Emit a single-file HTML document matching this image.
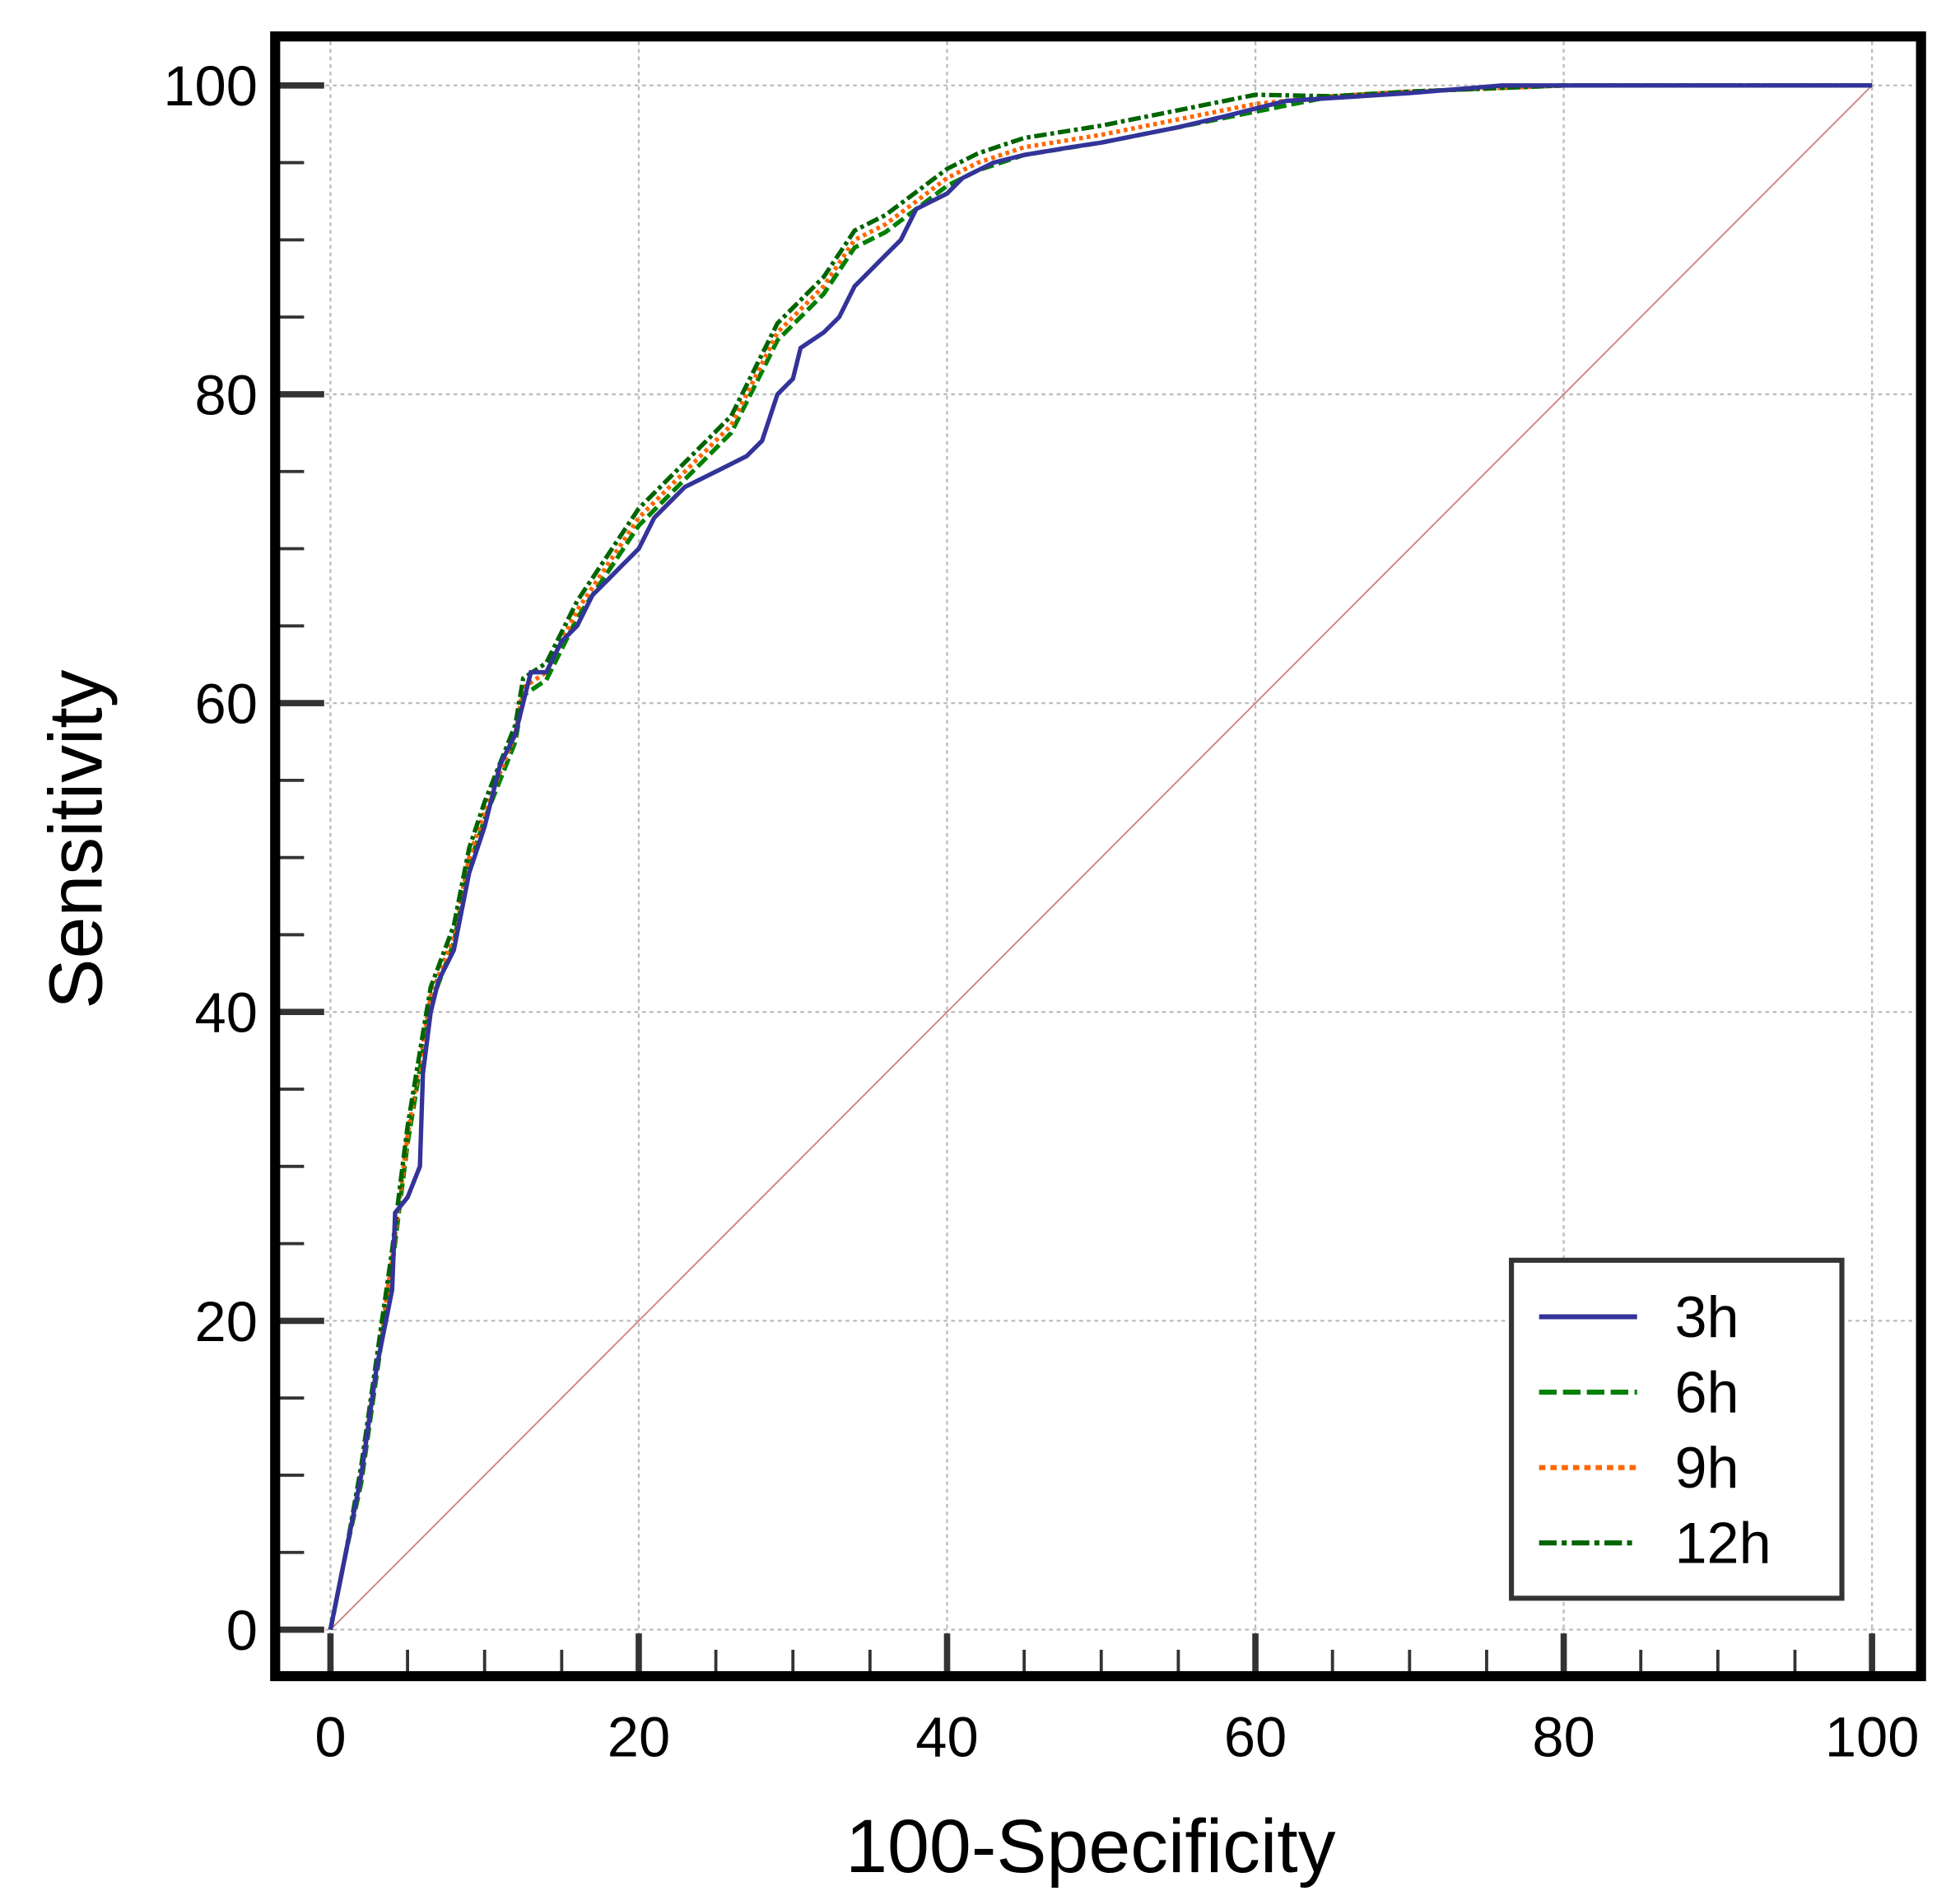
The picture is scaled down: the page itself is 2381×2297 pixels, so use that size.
<!DOCTYPE html>
<html><head><meta charset="utf-8"><style>
html,body{margin:0;padding:0;background:#fff;}
svg{display:block;}
text{font-family:"Liberation Sans",Arial,sans-serif;fill:#000;}
</style></head><body>
<svg id="s" width="2381" height="2297" viewBox="0 0 1560 1505" xmlns="http://www.w3.org/2000/svg">
<rect x="0" y="0" width="1560" height="1505" fill="#fff"/>
<g id="grid" stroke="#bbb" stroke-width="1.5" stroke-dasharray="3,3"></g>
<line x1="263" y1="1297" x2="1490" y2="68" stroke="#d08080" stroke-width="1.2"/>
<g id="curves" fill="none"></g>
<g id="ticks" stroke="#333"></g>
<rect x="219" y="29" width="1310" height="1305" fill="none" stroke="#000" stroke-width="8"/>
<g id="labels" font-size="45"></g>
<text x="65" y="668" font-size="60" text-anchor="middle" transform="rotate(-90 65 668)" dominant-baseline="middle">Sensitivity</text>
<text x="868" y="1490" font-size="60" text-anchor="middle">100-Specificity</text>
<rect x="1203" y="1003" width="263" height="269" fill="#fff" stroke="#333" stroke-width="4"/>
<line x1="1225" y1="1048" x2="1303" y2="1048" stroke="#333399" stroke-width="4"/>
<line x1="1225" y1="1108" x2="1303" y2="1108" stroke="#008000" stroke-width="4" stroke-dasharray="14,5"/>
<line x1="1225" y1="1168" x2="1303" y2="1168" stroke="#ff6600" stroke-width="4" stroke-dasharray="5,4"/>
<line x1="1225" y1="1228" x2="1303" y2="1228" stroke="#006400" stroke-width="4" stroke-dasharray="14,4,4,4"/>
<text x="1333" y="1064" font-size="46">3h</text>
<text x="1333" y="1124" font-size="46">6h</text>
<text x="1333" y="1184" font-size="46">9h</text>
<text x="1333" y="1244" font-size="46">12h</text>
</svg>
<script>
var NS="http://www.w3.org/2000/svg";
function X(v){return 263+v*12.27;}function Y(v){return 1297-v*12.29;}
function el(p,t,a){var e=document.createElementNS(NS,t);for(var k in a)e.setAttribute(k,a[k]);p.appendChild(e);return e;}
var g=document.getElementById('grid'),tk=document.getElementById('ticks'),lb=document.getElementById('labels');
for(var v=0;v<=100;v+=20){
 el(g,'line',{x1:X(v),y1:33,x2:X(v),y2:1330});
 el(g,'line',{x1:223,y1:Y(v),x2:1525,y2:Y(v)});
 var t=el(lb,'text',{x:205,y:Y(v)+16,'text-anchor':'end'});t.textContent=v;
 var t2=el(lb,'text',{x:X(v),y:1398,'text-anchor':'middle'});t2.textContent=v;
}
for(var v=0;v<=100;v+=5){
 var maj=v%20==0;
 el(tk,'line',{x1:222,y1:Y(v),x2:maj?258:242,y2:Y(v),'stroke-width':maj?5:2.5});
 el(tk,'line',{x1:X(v),y1:1331,x2:X(v),y2:maj?1300:1313,'stroke-width':maj?5:2.5});
}
var blue=[[0,0],[1,5],[2,10],[3,17],[4,22],[4.2,27],[5,28],[5.8,30],[6,36],[6.5,40],[7,42],[8,44],[9,49],[10,52],[11,56],[12,58],[13,62],[14,62],[15,64],[16,65],[17,67],[18,68],[19,69],[20,70],[21,72],[22,73],[23,74],[25,75],[27,76],[28,77],[29,80],[30,81],[30.5,83],[32,84],[33,85],[34,87],[35,88],[36,89],[37,90],[38,92],[39,92.5],[40,93],[41,94],[43,95],[45,95.5],[48,96],[50,96.3],[55,97.3],[58,98],[60,98.5],[62,99],[70,99.5],[76,100],[100,100]];
var base=[[0,0],[1,5],[2,10],[3,17],[4,24],[4.5,28],[5,32],[6,38],[6.5,41],[8,45],[9,50],[10,53],[12,58],[12.5,61],[14,62],[16,66],[18,69],[20,72],[22,74],[24,76],[26,78],[27,80],[28,82],[29,84],[30,85],[32,87],[34,90],[36,91],[38,92.5],[40,94],[42,95],[45,96],[50,96.8],[55,97.8],[60,98.8],[65,99.3],[70,99.6],[80,100],[100,100]];
function path(pts,dy){var d='';pts.forEach(function(p,i){var y=Math.min(100,p[1]+(p[1]>5&&p[1]<99?dy:0));d+=(i?'L':'M')+X(p[0]).toFixed(1)+' '+Y(y).toFixed(1);});return d;}
var c=document.getElementById('curves');
el(c,'path',{d:path(base,-0.5),stroke:'#008000','stroke-width':3.5,'stroke-dasharray':'10,4'});
el(c,'path',{d:path(base,0),stroke:'#ff6600','stroke-width':3.5,'stroke-dasharray':'3,3'});
el(c,'path',{d:path(base,0.6),stroke:'#006400','stroke-width':3.5,'stroke-dasharray':'10,3,3,3'});
el(c,'path',{d:path(blue,0),stroke:'#333399','stroke-width':3.5});
</script>
</body></html>
